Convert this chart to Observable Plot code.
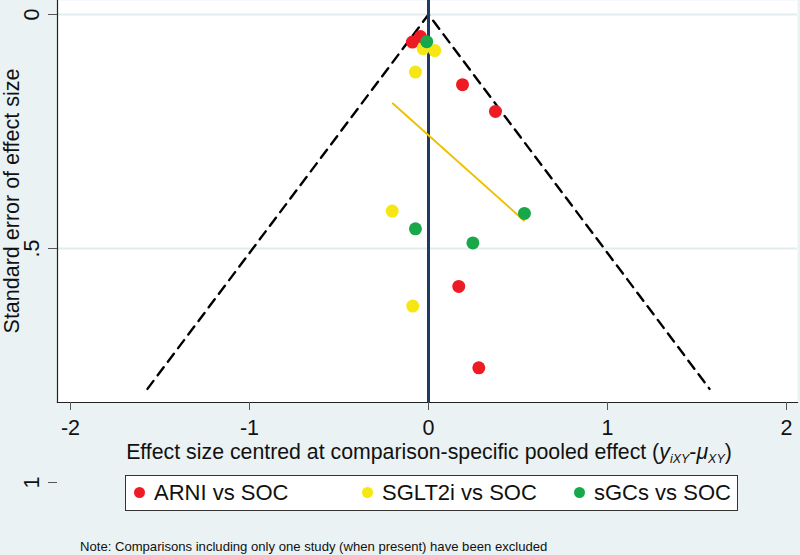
<!DOCTYPE html>
<html><head><meta charset="utf-8">
<script src="https://cdn.jsdelivr.net/npm/d3@7"></script>
<script src="https://cdn.jsdelivr.net/npm/@observablehq/plot@0.6"></script>
<style>
html,body{margin:0;padding:0;background:#eaf2f3;}
#wrap{position:relative;width:800px;height:555px;overflow:hidden;font-family:"Liberation Sans",Arial,sans-serif;}
#chart svg{display:block;}
#legend{position:absolute;left:125px;top:475px;width:611px;height:34px;border:1px solid #333;background:#fff;}
.item{position:absolute;top:0;height:34px;line-height:34px;font-size:22px;color:#111;white-space:nowrap;}
.sw{display:inline-block;width:11px;height:11px;border-radius:50%;margin-right:9px;vertical-align:middle;position:relative;top:-2px;}
#note{position:absolute;left:80px;top:539px;font-size:13.1px;color:#111;white-space:nowrap;}
</style></head>
<body>
<div id="wrap"><div id="chart"></div><div id="legend"></div><div id="note"></div></div>
<script>
// Series (x = effect size centred, y = standard error)
const series = ["ARNI vs SOC", "SGLT2i vs SOC", "sGCs vs SOC"];
const colors = ["#ed1c24", "#f6e714", "#18a84a"];
const arniX = [-0.09, -0.045, 0.19, 0.374, 0.169, 0.281];
const arniY = [0.059, 0.047, 0.150, 0.207, 0.581, 0.755];
const sglt2X = [-0.03, 0.035, -0.073, -0.203, -0.088];
const sglt2Y = [0.073, 0.077, 0.123, 0.420, 0.623];
const sgcX = [-0.01, -0.073, 0.248, 0.536];
const sgcY = [0.058, 0.458, 0.488, 0.425];
// Fitted (adjusted) regression line for SGLT2i
const regX = [-0.199, 0.533];
const regY = [0.19, 0.44];
// Pseudo 95% CI funnel
const funnelX = [-1.57, 0, 1.57];
const funnelY = [0.8, 0, 0.8];
// Ticks
const xTicks = [-2, -1, 0, 1, 2];
const yTicks = [0, 0.5, 1];
const yGrid = [0, 0.5];
const noteText = "Note: Comparisons including only one study (when present) have been excluded";

const points = [];
[[arniX, arniY], [sglt2X, sglt2Y], [sgcX, sgcY]].forEach(([xs, ys], i) => {
  xs.forEach((x, j) => points.push({x, y: ys[j], s: series[i]}));
});
const funnel = funnelX.map((x, i) => ({x, y: funnelY[i]}));
const reg = regX.map((x, i) => ({x, y: regY[i]}));

const H = 500;
const svg = Plot.plot({
  width: 800,
  height: H,
  marginLeft: 57,
  marginRight: 3,
  marginTop: 0,
  marginBottom: H - 402,
  style: {background: "#eaf2f3", fontFamily: "'Liberation Sans', Arial, sans-serif", fontSize: "21.5px", color: "#111", overflow: "visible"},
  x: {domain: [-2, 2], range: [70, 786]},
  y: {domain: [0, 1], range: [14, 482]},
  color: {domain: series, range: colors},
  marks: [
    Plot.frame({fill: "white", stroke: null}),
    Plot.gridY(yGrid, {stroke: "#e2ebed", strokeOpacity: 1, strokeWidth: 2}),
    Plot.frame({anchor: "left", stroke: "#222", strokeWidth: 1.2}),
    Plot.frame({anchor: "bottom", stroke: "#222", strokeWidth: 1.2}),
    Plot.axisX({ticks: xTicks, tickSize: 8, tickPadding: 9, tickFormat: d => String(d), label: null, stroke: "#555", fill: "#111"}),
    Plot.axisY({ticks: yTicks, tickSize: 9, tickPadding: 10, tickRotate: -90, tickFormat: d => d === 0.5 ? ".5" : String(d), label: null, stroke: "#555", fill: "#111"}),
    Plot.line(funnel, {x: "x", y: "y", stroke: "#000", strokeWidth: 2.4, strokeDasharray: "10,7"}),
    Plot.ruleX([0], {stroke: "#1f3b63", strokeWidth: 3}),
    Plot.line(reg, {x: "x", y: "y", stroke: "#f0c000", strokeWidth: 2}),
    Plot.dot(points, {x: "x", y: "y", fill: "s", r: 6.5, stroke: null})
  ]
});
document.getElementById("chart").appendChild(svg);

const s = d3.select(svg);
const xl = s.append("text").attr("x", 429).attr("y", 459).attr("text-anchor", "middle").attr("fill", "#111").style("font-size", "21.3px");
xl.append("tspan").text("Effect size centred at comparison-specific pooled effect (");
xl.append("tspan").attr("font-style", "italic").text("y");
xl.append("tspan").attr("font-style", "italic").attr("font-size", "12.5px").attr("dy", 4).text("iXY");
xl.append("tspan").attr("dy", -4).text("-");
xl.append("tspan").attr("font-style", "italic").text("μ");
xl.append("tspan").attr("font-style", "italic").attr("font-size", "12.5px").attr("dy", 4).text("XY");
xl.append("tspan").attr("dy", -4).text(")");

s.append("text").attr("transform", "translate(11,201) rotate(-90)").attr("text-anchor", "middle")
  .attr("dy", "0.35em").attr("fill", "#111").style("font-size", "21.5px").text("Standard error of effect size");

const legend = d3.select("#legend");
const lefts = [8, 236, 448];
series.forEach((name, i) => {
  const it = legend.append("div").attr("class", "item").style("left", lefts[i] + "px");
  it.append("span").attr("class", "sw").style("background", colors[i]);
  it.append("span").text(name);
});
d3.select("#note").text(noteText);
</script>
</body></html>
